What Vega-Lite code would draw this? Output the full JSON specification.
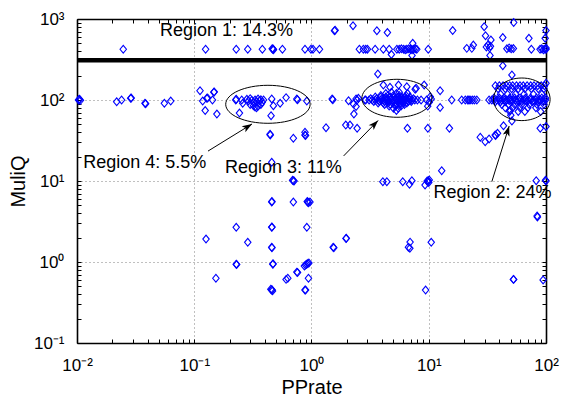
{
  "$schema": "https://vega.github.io/schema/vega-lite/v6.json",
  "width": 469,
  "height": 324,
  "autosize": {"type": "none"},
  "padding": {"left": 77, "top": 19, "right": 16, "bottom": 55},
  "background": "white",
  "config": {"view": {"stroke": null}, "font": "Liberation Sans"},
  "datasets": {
    "points": [
      {"PPrate": 0.0248, "MuliQ": 423}, {"PPrate": 0.125, "MuliQ": 423}, {"PPrate": 0.228, "MuliQ": 423}, {"PPrate": 0.286, "MuliQ": 423},
      {"PPrate": 0.381, "MuliQ": 423}, {"PPrate": 0.468, "MuliQ": 423}, {"PPrate": 0.462, "MuliQ": 430}, {"PPrate": 0.474, "MuliQ": 418},
      {"PPrate": 0.47, "MuliQ": 426}, {"PPrate": 0.565, "MuliQ": 423}, {"PPrate": 0.88, "MuliQ": 423}, {"PPrate": 0.99, "MuliQ": 423},
      {"PPrate": 1.03, "MuliQ": 423}, {"PPrate": 1.17, "MuliQ": 423}, {"PPrate": 1.57, "MuliQ": 718}, {"PPrate": 1.59, "MuliQ": 726},
      {"PPrate": 2.26, "MuliQ": 826}, {"PPrate": 3.61, "MuliQ": 718}, {"PPrate": 4.44, "MuliQ": 680}, {"PPrate": 2.56, "MuliQ": 423},
      {"PPrate": 2.77, "MuliQ": 423}, {"PPrate": 2.9, "MuliQ": 423}, {"PPrate": 3.0, "MuliQ": 423}, {"PPrate": 3.49, "MuliQ": 423},
      {"PPrate": 4.1, "MuliQ": 423}, {"PPrate": 4.6, "MuliQ": 423}, {"PPrate": 4.8, "MuliQ": 365}, {"PPrate": 5.35, "MuliQ": 423},
      {"PPrate": 5.6, "MuliQ": 423}, {"PPrate": 5.85, "MuliQ": 428}, {"PPrate": 6.1, "MuliQ": 423}, {"PPrate": 6.3, "MuliQ": 418},
      {"PPrate": 6.5, "MuliQ": 423}, {"PPrate": 6.75, "MuliQ": 430}, {"PPrate": 7.0, "MuliQ": 423}, {"PPrate": 7.2, "MuliQ": 418},
      {"PPrate": 7.4, "MuliQ": 423}, {"PPrate": 7.7, "MuliQ": 428}, {"PPrate": 7.9, "MuliQ": 423}, {"PPrate": 7.3, "MuliQ": 501},
      {"PPrate": 7.2, "MuliQ": 355}, {"PPrate": 9.9, "MuliQ": 423}, {"PPrate": 16.0, "MuliQ": 720}, {"PPrate": 21.1, "MuliQ": 434},
      {"PPrate": 23.3, "MuliQ": 434}, {"PPrate": 24.0, "MuliQ": 477}, {"PPrate": 29.7, "MuliQ": 803}, {"PPrate": 30.5, "MuliQ": 622},
      {"PPrate": 31, "MuliQ": 451}, {"PPrate": 32, "MuliQ": 477}, {"PPrate": 33, "MuliQ": 440}, {"PPrate": 33.6, "MuliQ": 460},
      {"PPrate": 33.9, "MuliQ": 551}, {"PPrate": 33.3, "MuliQ": 355}, {"PPrate": 42.8, "MuliQ": 590}, {"PPrate": 46.4, "MuliQ": 430},
      {"PPrate": 48.5, "MuliQ": 440}, {"PPrate": 50.5, "MuliQ": 428}, {"PPrate": 52.7, "MuliQ": 432}, {"PPrate": 53, "MuliQ": 905},
      {"PPrate": 71.5, "MuliQ": 578}, {"PPrate": 75, "MuliQ": 423}, {"PPrate": 89, "MuliQ": 423}, {"PPrate": 92, "MuliQ": 430},
      {"PPrate": 95, "MuliQ": 418}, {"PPrate": 98, "MuliQ": 423}, {"PPrate": 100, "MuliQ": 423}, {"PPrate": 100, "MuliQ": 440},
      {"PPrate": 100, "MuliQ": 720}, {"PPrate": 98.4, "MuliQ": 578},

      {"PPrate": 42.8, "MuliQ": 265}, {"PPrate": 51.2, "MuliQ": 204}, {"PPrate": 3.68, "MuliQ": 210}, {"PPrate": 0.112, "MuliQ": 130},
      {"PPrate": 0.147, "MuliQ": 125}, {"PPrate": 0.148, "MuliQ": 126}, {"PPrate": 4.1, "MuliQ": 153}, {"PPrate": 4.67, "MuliQ": 144},
      {"PPrate": 5.52, "MuliQ": 153}, {"PPrate": 6.5, "MuliQ": 146}, {"PPrate": 7.8, "MuliQ": 140}, {"PPrate": 7.66, "MuliQ": 136},
      {"PPrate": 9.14, "MuliQ": 153}, {"PPrate": 12.5, "MuliQ": 130}, {"PPrate": 10.3, "MuliQ": 110}, {"PPrate": 100, "MuliQ": 161},

      {"PPrate": 0.0103, "MuliQ": 100}, {"PPrate": 0.0105, "MuliQ": 102}, {"PPrate": 0.0107, "MuliQ": 99}, {"PPrate": 0.0104, "MuliQ": 101},
      {"PPrate": 0.0218, "MuliQ": 95}, {"PPrate": 0.024, "MuliQ": 100}, {"PPrate": 0.0287, "MuliQ": 105}, {"PPrate": 0.029, "MuliQ": 106},
      {"PPrate": 0.038, "MuliQ": 91}, {"PPrate": 0.0385, "MuliQ": 90}, {"PPrate": 0.0556, "MuliQ": 91}, {"PPrate": 0.063, "MuliQ": 97},
      {"PPrate": 0.118, "MuliQ": 97}, {"PPrate": 0.128, "MuliQ": 105}, {"PPrate": 0.13, "MuliQ": 106}, {"PPrate": 0.143, "MuliQ": 100},
      {"PPrate": 0.124, "MuliQ": 74}, {"PPrate": 0.156, "MuliQ": 67},

      {"PPrate": 0.228, "MuliQ": 102}, {"PPrate": 0.226, "MuliQ": 100}, {"PPrate": 0.254, "MuliQ": 100}, {"PPrate": 0.243, "MuliQ": 69},
      {"PPrate": 0.259, "MuliQ": 91}, {"PPrate": 0.281, "MuliQ": 102}, {"PPrate": 0.29, "MuliQ": 97}, {"PPrate": 0.30, "MuliQ": 104},
      {"PPrate": 0.31, "MuliQ": 99}, {"PPrate": 0.32, "MuliQ": 93}, {"PPrate": 0.33, "MuliQ": 100}, {"PPrate": 0.34, "MuliQ": 96},
      {"PPrate": 0.35, "MuliQ": 103}, {"PPrate": 0.36, "MuliQ": 98}, {"PPrate": 0.37, "MuliQ": 101}, {"PPrate": 0.38, "MuliQ": 94},
      {"PPrate": 0.39, "MuliQ": 100}, {"PPrate": 0.32, "MuliQ": 85}, {"PPrate": 0.33, "MuliQ": 82}, {"PPrate": 0.34, "MuliQ": 80},
      {"PPrate": 0.35, "MuliQ": 84}, {"PPrate": 0.30, "MuliQ": 88}, {"PPrate": 0.37, "MuliQ": 88}, {"PPrate": 0.458, "MuliQ": 103},
      {"PPrate": 0.473, "MuliQ": 85}, {"PPrate": 0.452, "MuliQ": 64}, {"PPrate": 0.54, "MuliQ": 91}, {"PPrate": 0.607, "MuliQ": 107},
      {"PPrate": 0.75, "MuliQ": 103}, {"PPrate": 0.76, "MuliQ": 101}, {"PPrate": 0.912, "MuliQ": 97}, {"PPrate": 0.445, "MuliQ": 37},

      {"PPrate": 1.5, "MuliQ": 103}, {"PPrate": 1.52, "MuliQ": 101}, {"PPrate": 2.07, "MuliQ": 98}, {"PPrate": 2.28, "MuliQ": 89},
      {"PPrate": 2.3, "MuliQ": 67}, {"PPrate": 2.4, "MuliQ": 103}, {"PPrate": 2.45, "MuliQ": 100}, {"PPrate": 2.4, "MuliQ": 83},
      {"PPrate": 2.51, "MuliQ": 105}, {"PPrate": 2.86, "MuliQ": 100},

      {"PPrate": 2.9, "MuliQ": 100}, {"PPrate": 3.1, "MuliQ": 100}, {"PPrate": 3.3, "MuliQ": 100}, {"PPrate": 3.5, "MuliQ": 100},
      {"PPrate": 3.7, "MuliQ": 100}, {"PPrate": 3.9, "MuliQ": 100}, {"PPrate": 4.1, "MuliQ": 100}, {"PPrate": 4.3, "MuliQ": 100},
      {"PPrate": 4.5, "MuliQ": 100}, {"PPrate": 4.7, "MuliQ": 100}, {"PPrate": 4.9, "MuliQ": 100}, {"PPrate": 5.1, "MuliQ": 100},
      {"PPrate": 5.3, "MuliQ": 100}, {"PPrate": 5.5, "MuliQ": 100}, {"PPrate": 5.7, "MuliQ": 100}, {"PPrate": 5.9, "MuliQ": 100},
      {"PPrate": 6.1, "MuliQ": 100}, {"PPrate": 6.3, "MuliQ": 100}, {"PPrate": 6.6, "MuliQ": 100}, {"PPrate": 6.9, "MuliQ": 100},
      {"PPrate": 7.2, "MuliQ": 100}, {"PPrate": 7.6, "MuliQ": 100}, {"PPrate": 8.0, "MuliQ": 100},
      {"PPrate": 3.4, "MuliQ": 96}, {"PPrate": 3.8, "MuliQ": 96}, {"PPrate": 4.2, "MuliQ": 96}, {"PPrate": 4.6, "MuliQ": 96},
      {"PPrate": 5.0, "MuliQ": 96}, {"PPrate": 5.4, "MuliQ": 96}, {"PPrate": 5.8, "MuliQ": 96}, {"PPrate": 6.2, "MuliQ": 96},
      {"PPrate": 6.7, "MuliQ": 96}, {"PPrate": 7.1, "MuliQ": 96},
      {"PPrate": 3.2, "MuliQ": 104}, {"PPrate": 3.6, "MuliQ": 104}, {"PPrate": 4.0, "MuliQ": 104}, {"PPrate": 4.4, "MuliQ": 104},
      {"PPrate": 4.8, "MuliQ": 104}, {"PPrate": 5.2, "MuliQ": 104}, {"PPrate": 5.6, "MuliQ": 104}, {"PPrate": 6.0, "MuliQ": 104},
      {"PPrate": 6.4, "MuliQ": 104}, {"PPrate": 6.8, "MuliQ": 104}, {"PPrate": 7.4, "MuliQ": 104},
      {"PPrate": 3.7, "MuliQ": 92}, {"PPrate": 4.1, "MuliQ": 92}, {"PPrate": 4.5, "MuliQ": 92}, {"PPrate": 4.9, "MuliQ": 92},
      {"PPrate": 5.3, "MuliQ": 92}, {"PPrate": 5.7, "MuliQ": 92}, {"PPrate": 6.1, "MuliQ": 92}, {"PPrate": 6.5, "MuliQ": 92},
      {"PPrate": 3.5, "MuliQ": 109}, {"PPrate": 3.9, "MuliQ": 109}, {"PPrate": 4.3, "MuliQ": 109}, {"PPrate": 4.7, "MuliQ": 109},
      {"PPrate": 5.1, "MuliQ": 109}, {"PPrate": 5.5, "MuliQ": 109}, {"PPrate": 5.9, "MuliQ": 109}, {"PPrate": 6.3, "MuliQ": 109},
      {"PPrate": 6.9, "MuliQ": 109},
      {"PPrate": 4.2, "MuliQ": 88}, {"PPrate": 4.7, "MuliQ": 88}, {"PPrate": 5.2, "MuliQ": 88}, {"PPrate": 5.7, "MuliQ": 88},
      {"PPrate": 6.2, "MuliQ": 88},
      {"PPrate": 3.9, "MuliQ": 114}, {"PPrate": 4.5, "MuliQ": 114}, {"PPrate": 5.0, "MuliQ": 114}, {"PPrate": 5.6, "MuliQ": 114},
      {"PPrate": 6.4, "MuliQ": 114},
      {"PPrate": 4.6, "MuliQ": 84}, {"PPrate": 5.2, "MuliQ": 84}, {"PPrate": 5.8, "MuliQ": 84},
      {"PPrate": 4.3, "MuliQ": 120}, {"PPrate": 5.3, "MuliQ": 120}, {"PPrate": 6.6, "MuliQ": 120},
      {"PPrate": 4.8, "MuliQ": 125}, {"PPrate": 5.6, "MuliQ": 125},
      {"PPrate": 5.0, "MuliQ": 79}, {"PPrate": 5.5, "MuliQ": 79}, {"PPrate": 5.3, "MuliQ": 74},
      {"PPrate": 8.6, "MuliQ": 100}, {"PPrate": 9.6, "MuliQ": 100}, {"PPrate": 10.5, "MuliQ": 103}, {"PPrate": 10.1, "MuliQ": 94},
      {"PPrate": 12.5, "MuliQ": 81}, {"PPrate": 9.8, "MuliQ": 84},

      {"PPrate": 15.7, "MuliQ": 100}, {"PPrate": 19.1, "MuliQ": 100}, {"PPrate": 20.5, "MuliQ": 100}, {"PPrate": 21.5, "MuliQ": 100},
      {"PPrate": 22, "MuliQ": 100}, {"PPrate": 22.5, "MuliQ": 100}, {"PPrate": 23.5, "MuliQ": 100}, {"PPrate": 24.5, "MuliQ": 100},
      {"PPrate": 25.7, "MuliQ": 100}, {"PPrate": 32.7, "MuliQ": 100},

      {"PPrate": 37, "MuliQ": 150}, {"PPrate": 40, "MuliQ": 150}, {"PPrate": 43, "MuliQ": 150}, {"PPrate": 46, "MuliQ": 150},
      {"PPrate": 49, "MuliQ": 150}, {"PPrate": 52, "MuliQ": 150}, {"PPrate": 56, "MuliQ": 150}, {"PPrate": 60, "MuliQ": 150},
      {"PPrate": 64, "MuliQ": 150}, {"PPrate": 69, "MuliQ": 150}, {"PPrate": 74, "MuliQ": 150}, {"PPrate": 79, "MuliQ": 150},
      {"PPrate": 85, "MuliQ": 150}, {"PPrate": 91, "MuliQ": 150}, {"PPrate": 97, "MuliQ": 150},
      {"PPrate": 39, "MuliQ": 138}, {"PPrate": 45, "MuliQ": 138}, {"PPrate": 51, "MuliQ": 138}, {"PPrate": 58, "MuliQ": 138},
      {"PPrate": 66, "MuliQ": 138}, {"PPrate": 75, "MuliQ": 138}, {"PPrate": 86, "MuliQ": 138}, {"PPrate": 96, "MuliQ": 138},
      {"PPrate": 34.5, "MuliQ": 100}, {"PPrate": 36, "MuliQ": 100}, {"PPrate": 38, "MuliQ": 100}, {"PPrate": 40, "MuliQ": 100},
      {"PPrate": 42, "MuliQ": 100}, {"PPrate": 44, "MuliQ": 100}, {"PPrate": 46, "MuliQ": 100}, {"PPrate": 48, "MuliQ": 100},
      {"PPrate": 50, "MuliQ": 100}, {"PPrate": 52, "MuliQ": 100}, {"PPrate": 55, "MuliQ": 100}, {"PPrate": 58, "MuliQ": 100},
      {"PPrate": 61, "MuliQ": 100}, {"PPrate": 64, "MuliQ": 100}, {"PPrate": 67, "MuliQ": 100}, {"PPrate": 70, "MuliQ": 100},
      {"PPrate": 74, "MuliQ": 100}, {"PPrate": 78, "MuliQ": 100}, {"PPrate": 82, "MuliQ": 100}, {"PPrate": 86, "MuliQ": 100},
      {"PPrate": 90, "MuliQ": 100}, {"PPrate": 95, "MuliQ": 100}, {"PPrate": 99, "MuliQ": 100},
      {"PPrate": 37, "MuliQ": 95}, {"PPrate": 41, "MuliQ": 95}, {"PPrate": 45, "MuliQ": 95}, {"PPrate": 50, "MuliQ": 95},
      {"PPrate": 56, "MuliQ": 95}, {"PPrate": 62, "MuliQ": 95}, {"PPrate": 69, "MuliQ": 95}, {"PPrate": 77, "MuliQ": 95},
      {"PPrate": 86, "MuliQ": 95}, {"PPrate": 95, "MuliQ": 95},
      {"PPrate": 36, "MuliQ": 106}, {"PPrate": 40, "MuliQ": 106}, {"PPrate": 44, "MuliQ": 106}, {"PPrate": 49, "MuliQ": 106},
      {"PPrate": 54, "MuliQ": 106}, {"PPrate": 60, "MuliQ": 106}, {"PPrate": 67, "MuliQ": 106}, {"PPrate": 74, "MuliQ": 106},
      {"PPrate": 83, "MuliQ": 106}, {"PPrate": 92, "MuliQ": 106}, {"PPrate": 99, "MuliQ": 106},
      {"PPrate": 42, "MuliQ": 88}, {"PPrate": 48, "MuliQ": 88}, {"PPrate": 54, "MuliQ": 88}, {"PPrate": 62, "MuliQ": 88},
      {"PPrate": 72, "MuliQ": 88}, {"PPrate": 84, "MuliQ": 88}, {"PPrate": 96, "MuliQ": 88},
      {"PPrate": 45, "MuliQ": 80}, {"PPrate": 52, "MuliQ": 80}, {"PPrate": 60, "MuliQ": 80}, {"PPrate": 70, "MuliQ": 80},
      {"PPrate": 82, "MuliQ": 80},
      {"PPrate": 49, "MuliQ": 72}, {"PPrate": 58, "MuliQ": 72}, {"PPrate": 66, "MuliQ": 72}, {"PPrate": 90, "MuliQ": 72},
      {"PPrate": 41, "MuliQ": 118}, {"PPrate": 47, "MuliQ": 118}, {"PPrate": 55, "MuliQ": 118}, {"PPrate": 65, "MuliQ": 118},
      {"PPrate": 78, "MuliQ": 118}, {"PPrate": 92, "MuliQ": 118},
      {"PPrate": 49.4, "MuliQ": 75}, {"PPrate": 50.1, "MuliQ": 65}, {"PPrate": 51.2, "MuliQ": 55}, {"PPrate": 43.4, "MuliQ": 48},

      {"PPrate": 1.33, "MuliQ": 45.5}, {"PPrate": 1.96, "MuliQ": 49}, {"PPrate": 2.13, "MuliQ": 49}, {"PPrate": 2.45, "MuliQ": 44.7},
      {"PPrate": 6.58, "MuliQ": 44.7}, {"PPrate": 9.82, "MuliQ": 44.7}, {"PPrate": 15, "MuliQ": 44.7}, {"PPrate": 89.3, "MuliQ": 44.7},
      {"PPrate": 100, "MuliQ": 47}, {"PPrate": 0.88, "MuliQ": 40}, {"PPrate": 0.443, "MuliQ": 37.8}, {"PPrate": 0.70, "MuliQ": 33.7},
      {"PPrate": 0.88, "MuliQ": 37}, {"PPrate": 0.89, "MuliQ": 36.5}, {"PPrate": 27.5, "MuliQ": 34.7}, {"PPrate": 30.3, "MuliQ": 30.5},
      {"PPrate": 32.7, "MuliQ": 33}, {"PPrate": 36.9, "MuliQ": 37}, {"PPrate": 37.2, "MuliQ": 36.5}, {"PPrate": 38.6, "MuliQ": 38.8},
      {"PPrate": 0.458, "MuliQ": 17}, {"PPrate": 12.9, "MuliQ": 13.4},
      {"PPrate": 0.70, "MuliQ": 10.1}, {"PPrate": 0.71, "MuliQ": 10.0}, {"PPrate": 0.69, "MuliQ": 10.2}, {"PPrate": 4.06, "MuliQ": 9.8},
      {"PPrate": 4.39, "MuliQ": 9.8}, {"PPrate": 6.0, "MuliQ": 9.8}, {"PPrate": 6.85, "MuliQ": 9.1}, {"PPrate": 7.18, "MuliQ": 10.1},
      {"PPrate": 9.3, "MuliQ": 8.9}, {"PPrate": 9.9, "MuliQ": 10.1}, {"PPrate": 10.0, "MuliQ": 9.6}, {"PPrate": 9.7, "MuliQ": 10.0},
      {"PPrate": 10.1, "MuliQ": 10.3}, {"PPrate": 9.8, "MuliQ": 9.8}, {"PPrate": 82.5, "MuliQ": 10.1}, {"PPrate": 100, "MuliQ": 10},
      {"PPrate": 99, "MuliQ": 10.2}, {"PPrate": 84.5, "MuliQ": 3.6}, {"PPrate": 84, "MuliQ": 3.7},
      {"PPrate": 0.458, "MuliQ": 5.5}, {"PPrate": 0.46, "MuliQ": 5.6}, {"PPrate": 0.70, "MuliQ": 5.5}, {"PPrate": 0.93, "MuliQ": 5.5},
      {"PPrate": 0.94, "MuliQ": 5.4}, {"PPrate": 0.92, "MuliQ": 5.6}, {"PPrate": 0.97, "MuliQ": 5.5},
      {"PPrate": 0.228, "MuliQ": 2.68}, {"PPrate": 0.458, "MuliQ": 2.68}, {"PPrate": 0.46, "MuliQ": 2.7}, {"PPrate": 0.912, "MuliQ": 2.68},
      {"PPrate": 0.126, "MuliQ": 1.92}, {"PPrate": 0.286, "MuliQ": 1.75}, {"PPrate": 0.458, "MuliQ": 1.52}, {"PPrate": 0.46, "MuliQ": 1.5},
      {"PPrate": 1.53, "MuliQ": 1.52}, {"PPrate": 1.55, "MuliQ": 1.5}, {"PPrate": 1.97, "MuliQ": 1.95}, {"PPrate": 1.98, "MuliQ": 1.97},
      {"PPrate": 6.71, "MuliQ": 1.52}, {"PPrate": 6.93, "MuliQ": 1.76}, {"PPrate": 6.9, "MuliQ": 1.48}, {"PPrate": 10.5, "MuliQ": 1.75},
      {"PPrate": 0.228, "MuliQ": 0.94}, {"PPrate": 0.23, "MuliQ": 0.93}, {"PPrate": 0.468, "MuliQ": 0.94}, {"PPrate": 0.47, "MuliQ": 0.95},
      {"PPrate": 0.91, "MuliQ": 0.94}, {"PPrate": 0.93, "MuliQ": 0.96}, {"PPrate": 0.89, "MuliQ": 0.92}, {"PPrate": 0.95, "MuliQ": 0.97},
      {"PPrate": 0.87, "MuliQ": 0.89}, {"PPrate": 0.153, "MuliQ": 0.63}, {"PPrate": 0.607, "MuliQ": 0.61}, {"PPrate": 0.628, "MuliQ": 0.63},
      {"PPrate": 0.75, "MuliQ": 0.75}, {"PPrate": 0.76, "MuliQ": 0.74}, {"PPrate": 0.942, "MuliQ": 0.63},
      {"PPrate": 0.458, "MuliQ": 0.45}, {"PPrate": 0.45, "MuliQ": 0.46}, {"PPrate": 0.465, "MuliQ": 0.44}, {"PPrate": 0.46, "MuliQ": 0.455},
      {"PPrate": 0.88, "MuliQ": 0.45}, {"PPrate": 0.89, "MuliQ": 0.45}, {"PPrate": 9.4, "MuliQ": 0.45},
      {"PPrate": 52.7, "MuliQ": 0.61}, {"PPrate": 53, "MuliQ": 0.61}, {"PPrate": 94.5, "MuliQ": 0.60}
    ],
    "threshold": [{"MuliQ": 310}],
    "regions": [
      {"region": "Region 4", "PPrate": 0.425, "MuliQ": 88.5},
      {"region": "Region 3", "PPrate": 5.35, "MuliQ": 105},
      {"region": "Region 2", "PPrate": 62.2, "MuliQ": 102}
    ],
    "arrows": [
      {"region": "Region 4", "tailPPrate": 0.131, "tailMuliQ": 23.4, "headPPrate": 0.311, "headMuliQ": 50.6},
      {"region": "Region 3", "tailPPrate": 1.88, "tailMuliQ": 20.4, "headPPrate": 3.70, "headMuliQ": 55.9},
      {"region": "Region 2", "tailPPrate": 34.5, "tailMuliQ": 9.8, "headPPrate": 48.5, "headMuliQ": 47.7}
    ],
    "labels": [
      {"label": "Region 1: 14.3%", "PPrate": 0.051, "MuliQ": 622},
      {"label": "Region 4: 5.5%", "PPrate": 0.0113, "MuliQ": 14.4},
      {"label": "Region 3: 11%", "PPrate": 0.183, "MuliQ": 12.4},
      {"label": "Region 2: 24%", "PPrate": 10.96, "MuliQ": 6.1}
    ]
  },
  "layer": [
    {
      "data": {"name": "points"},
      "mark": {"type": "point", "shape": "M0,-1L0.83,0L0,1L-0.83,0Z", "size": 60, "filled": false, "color": "#0000ff", "strokeWidth": 1.1, "opacity": 1},
      "encoding": {
        "x": {
          "field": "PPrate", "type": "quantitative",
          "scale": {"type": "log", "domain": [0.01, 100], "nice": false},
          "axis": {
            "orient": "bottom",
            "values": [0.01, 0.02, 0.03, 0.04, 0.05, 0.06, 0.07, 0.08, 0.09, 0.1, 0.2, 0.3, 0.4, 0.5, 0.6, 0.7, 0.8, 0.9, 1, 2, 3, 4, 5, 6, 7, 8, 9, 10, 20, 30, 40, 50, 60, 70, 80, 90, 100],
            "title": "PPrate",
            "titleFont": "Liberation Sans", "titleFontSize": 20, "titleFontWeight": "normal", "titleColor": "black",
            "titleX": 234.5, "titleY": 44, "titleAlign": "center", "titleBaseline": "middle",
            "labelExpr": "abs(datum.value / pow(10, round(log(datum.value) / LN10)) - 1) < 0.001 ? '10' + ['⁻²', '⁻¹', '⁰', '¹', '²', '³'][round(log(datum.value) / LN10) + 2] : ''",
            "labelFont": "Liberation Sans", "labelFontSize": 17, "labelColor": "black",
            "labelAlign": "center", "labelBaseline": "middle", "labelPadding": 26,
            "labelFlush": false, "labelOverlap": false, "labelBound": false,
            "ticks": true, "tickSize": -4, "tickColor": "black", "tickWidth": 1,
            "domain": true, "domainColor": "black", "domainWidth": 1.6,
            "grid": true, "gridColor": "#808080", "gridDash": [1, 3], "gridWidth": 1,
            "gridOpacity": {"condition": {"test": "abs(datum.value / pow(10, round(log(datum.value) / LN10)) - 1) < 0.001", "value": 1}, "value": 0}
          }
        },
        "y": {
          "field": "MuliQ", "type": "quantitative",
          "scale": {"type": "log", "domain": [0.1, 1000], "nice": false},
          "axis": {
            "orient": "left",
            "values": [0.1, 0.2, 0.3, 0.4, 0.5, 0.6, 0.7, 0.8, 0.9, 1, 2, 3, 4, 5, 6, 7, 8, 9, 10, 20, 30, 40, 50, 60, 70, 80, 90, 100, 200, 300, 400, 500, 600, 700, 800, 900, 1000],
            "title": "MuliQ",
            "titleFont": "Liberation Sans", "titleFontSize": 20, "titleFontWeight": "normal", "titleColor": "black",
            "titleX": -59, "titleY": 162, "titleAngle": -90, "titleAlign": "center", "titleBaseline": "middle",
            "labelExpr": "abs(datum.value / pow(10, round(log(datum.value) / LN10)) - 1) < 0.001 ? '10' + ['⁻²', '⁻¹', '⁰', '¹', '²', '³'][round(log(datum.value) / LN10) + 2] : ''",
            "labelFont": "Liberation Sans", "labelFontSize": 17, "labelColor": "black",
            "labelAlign": "right", "labelBaseline": "middle", "labelPadding": 17,
            "labelFlush": false, "labelOverlap": false, "labelBound": false,
            "ticks": true, "tickSize": -4, "tickColor": "black", "tickWidth": 1,
            "domain": true, "domainColor": "black", "domainWidth": 1.6,
            "grid": true, "gridColor": "#808080", "gridDash": [1, 3], "gridWidth": 1,
            "gridOpacity": {"condition": {"test": "abs(datum.value / pow(10, round(log(datum.value) / LN10)) - 1) < 0.001", "value": 1}, "value": 0}
          }
        }
      }
    },
    {
      "data": {"name": "threshold"},
      "mark": {"type": "rule", "color": "black", "strokeWidth": 4.6},
      "encoding": {
        "y": {"field": "MuliQ", "type": "quantitative", "scale": {"type": "log", "domain": [0.1, 1000], "nice": false}, "axis": null}
      }
    },
    {
      "data": {"name": "regions"},
      "mark": {"type": "point", "size": 3600, "filled": false, "color": "black", "strokeWidth": 1, "opacity": 1},
      "encoding": {
        "x": {"field": "PPrate", "type": "quantitative", "scale": {"type": "log", "domain": [0.01, 100], "nice": false}, "axis": null},
        "y": {"field": "MuliQ", "type": "quantitative", "scale": {"type": "log", "domain": [0.1, 1000], "nice": false}, "axis": null},
        "shape": {
          "field": "region", "type": "nominal", "legend": null,
          "scale": {
            "domain": ["Region 4", "Region 3", "Region 2"],
            "range": [
              "M-1.407,0C-1.407,-0.35,-0.777,-0.633,0,-0.633C0.777,-0.633,1.407,-0.35,1.407,0C1.407,0.35,0.777,0.633,0,0.633C-0.777,0.633,-1.407,0.35,-1.407,0Z",
              "M-1.167,0C-1.167,-0.35,-0.644,-0.633,0,-0.633C0.644,-0.633,1.167,-0.35,1.167,0C1.167,0.35,0.644,0.633,0,0.633C-0.644,0.633,-1.167,0.35,-1.167,0Z",
              "M-0.943,0C-0.943,-0.392,-0.521,-0.71,0,-0.71C0.521,-0.71,0.943,-0.392,0.943,0C0.943,0.392,0.521,0.71,0,0.71C-0.521,0.71,-0.943,0.392,-0.943,0Z"
            ]
          }
        }
      }
    },
    {
      "data": {"name": "arrows"},
      "mark": {"type": "rule", "color": "black", "strokeWidth": 1},
      "encoding": {
        "x": {"field": "tailPPrate", "type": "quantitative", "scale": {"type": "log", "domain": [0.01, 100], "nice": false}, "axis": null},
        "y": {"field": "tailMuliQ", "type": "quantitative", "scale": {"type": "log", "domain": [0.1, 1000], "nice": false}, "axis": null},
        "x2": {"field": "headPPrate"},
        "y2": {"field": "headMuliQ"}
      }
    },
    {
      "data": {"name": "arrows"},
      "mark": {"type": "point", "shape": "M0,0L0.7,2L0,1.5L-0.7,2Z", "size": 100, "filled": true, "color": "black", "opacity": 1},
      "encoding": {
        "x": {"field": "headPPrate", "type": "quantitative", "scale": {"type": "log", "domain": [0.01, 100], "nice": false}, "axis": null},
        "y": {"field": "headMuliQ", "type": "quantitative", "scale": {"type": "log", "domain": [0.1, 1000], "nice": false}, "axis": null},
        "angle": {"value": {"expr": "atan2(scale('x', datum.headPPrate) - scale('x', datum.tailPPrate), scale('y', datum.tailMuliQ) - scale('y', datum.headMuliQ)) * 180 / PI"}}
      }
    },
    {
      "data": {"name": "labels"},
      "mark": {"type": "text", "align": "left", "baseline": "alphabetic", "font": "Liberation Sans", "fontSize": 18, "color": "black"},
      "encoding": {
        "x": {
          "field": "PPrate", "type": "quantitative",
          "scale": {"type": "log", "domain": [0.01, 100], "nice": false},
          "axis": {
            "orient": "top", "title": null, "labels": false, "grid": false,
            "values": [0.01, 0.02, 0.03, 0.04, 0.05, 0.06, 0.07, 0.08, 0.09, 0.1, 0.2, 0.3, 0.4, 0.5, 0.6, 0.7, 0.8, 0.9, 1, 2, 3, 4, 5, 6, 7, 8, 9, 10, 20, 30, 40, 50, 60, 70, 80, 90, 100],
            "ticks": true, "tickSize": -4, "tickColor": "black", "tickWidth": 1,
            "domain": true, "domainColor": "black", "domainWidth": 1.6
          }
        },
        "y": {
          "field": "MuliQ", "type": "quantitative",
          "scale": {"type": "log", "domain": [0.1, 1000], "nice": false},
          "axis": {
            "orient": "right", "title": null, "labels": false, "grid": false,
            "values": [0.1, 0.2, 0.3, 0.4, 0.5, 0.6, 0.7, 0.8, 0.9, 1, 2, 3, 4, 5, 6, 7, 8, 9, 10, 20, 30, 40, 50, 60, 70, 80, 90, 100, 200, 300, 400, 500, 600, 700, 800, 900, 1000],
            "ticks": true, "tickSize": -4, "tickColor": "black", "tickWidth": 1,
            "domain": true, "domainColor": "black", "domainWidth": 1.6
          }
        },
        "text": {"field": "label", "type": "nominal"}
      }
    }
  ],
  "resolve": {"axis": {"x": "independent", "y": "independent"}}
}
